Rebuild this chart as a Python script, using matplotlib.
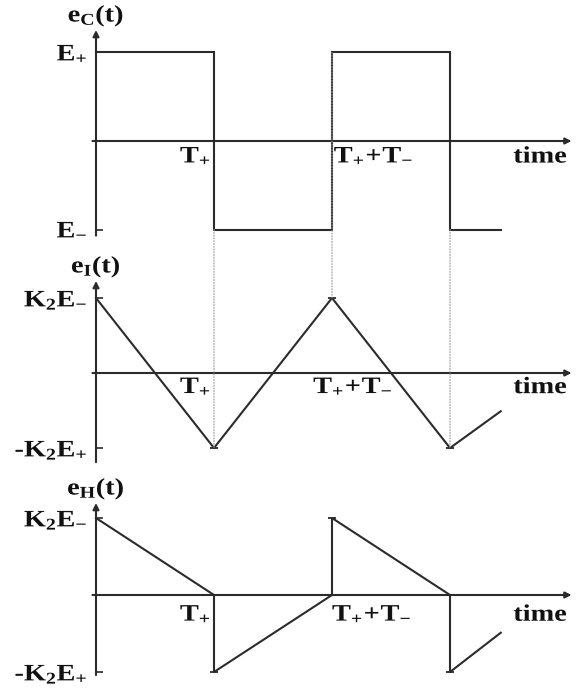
import matplotlib
matplotlib.use("Agg")
import matplotlib.pyplot as plt
from matplotlib.patches import ConnectionPatch
from matplotlib.patheffects import AbstractPathEffect
from matplotlib.transforms import Affine2D

plt.rcParams["font.family"] = ["Liberation Serif", "DejaVu Serif"]
plt.rcParams["font.weight"] = "bold"
plt.rcParams["mathtext.fontset"] = "custom"
plt.rcParams["mathtext.rm"] = "Liberation Serif:bold"
plt.rcParams["mathtext.it"] = "Liberation Serif:bold"
plt.rcParams["mathtext.bf"] = "Liberation Serif:bold"

# Time measured in units of T+ (here T- = T+)
t_c = [0, 1, 1, 2, 2, 3, 3, 3.43]
e_c = [1, 1, -1, -1, 1, 1, -1, -1]

t_i = [0, 1, 2, 3, 3.43]
e_i = [1, -1, 1, -1, -0.51]

t_h = [0, 1, 1, 2, 2, 3, 3, 3.43]
e_h = [1, 0, -1, 0, 1, 0, -1, -0.49]

switch_times = [1, 2, 3]

ylabels_c = [r"$E_{-}$", r"$E_{+}$"]
ylabels_k = [r"-$K_{2}E_{+}$", r"$K_{2}E_{-}$"]
names = [r"$e_{C}(t)$", r"$e_{I}(t)$", r"$e_{H}(t)$"]
lbl_tp = r"$T_{+}$"
lbl_tpm = r"$T_{+}\!+\!T_{-}$"

LINE = "#2b2b2b"
TXT = "#111111"
FS = 17
SX = 1.2


class Widen(AbstractPathEffect):
    """Stretch a text path horizontally, keeping one edge fixed."""

    def __init__(self, sx, fix="left"):
        super().__init__()
        self.sx = sx
        self.fix = fix

    def draw_path(self, renderer, gc, tpath, affine, rgbFace=None):
        xs = tpath.vertices[:, 0]
        x0, x1 = xs.min(), xs.max()
        cx = {"left": x0, "right": x1, "center": 0.5 * (x0 + x1)}[self.fix]
        t = Affine2D().translate(-cx, 0).scale(self.sx, 1).translate(cx, 0)
        renderer.draw_path(gc, tpath, t + affine, rgbFace)


W, H = 577, 692
fig = plt.figure(figsize=(W / 100, H / 100), dpi=100)


def band_axes(top_px, bottom_px, zero_px, unit_px):
    ax = fig.add_axes([0, 1 - bottom_px / H, 1, (bottom_px - top_px) / H])
    ax.set_xlim(-96 / 118, (W - 96) / 118)
    ax.set_ylim(-(bottom_px - zero_px) / unit_px, (zero_px - top_px) / unit_px)
    ax.patch.set_visible(False)
    for s in ("top", "right", "bottom"):
        ax.spines[s].set_visible(False)
    ax.spines["left"].set_position(("data", 0))
    ax.spines["left"].set_visible(False)
    ax.set_xticks([])
    ax.tick_params(axis="y", direction="in", length=5, width=1.2,
                   color=LINE, pad=6, labelsize=FS, labelcolor=TXT)
    return ax


def draw_axes(ax, y_lo, y_hi, name):
    arrow = dict(arrowstyle="-|>", lw=1.5, color=LINE, mutation_scale=9,
                 shrinkA=0, shrinkB=0)
    ax.annotate("", xy=(0, y_hi), xytext=(0, y_lo), arrowprops=arrow)
    ax.annotate("", xy=(4.03, 0), xytext=(-0.03, 0), arrowprops=arrow)
    ax.annotate(name, xy=(0, y_hi), xytext=(0, 1), textcoords="offset points",
                ha="center", va="bottom", fontsize=FS, color=TXT,
                path_effects=[Widen(SX, "center")])


ax1 = band_axes(0, 245, 141, 88.5)
ax2 = band_axes(245, 470, 373, 75)
ax3 = band_axes(470, 692, 595, 77)

ax1.set_yticks([-1, 1], labels=ylabels_c)
ax2.set_yticks([-1, 1], labels=ylabels_k)
ax3.set_yticks([-1, 1], labels=ylabels_k)
for ax in (ax1, ax2, ax3):
    for lab in ax.get_yticklabels():
        lab.set_path_effects([Widen(SX, "right")])

draw_axes(ax1, -1.07, 1.254, names[0])
draw_axes(ax2, -1.19, 1.227, names[1])
draw_axes(ax3, -1.04, 1.195, names[2])

# waveforms
ax1.plot(t_c, e_c, color=LINE, lw=1.5, solid_joinstyle="miter")
ax2.plot(t_i, e_i, color=LINE, lw=1.5, marker="_", markersize=6,
         markeredgewidth=1.3, markevery=[1, 2, 3])
ax3.plot(t_h, e_h, color=LINE, lw=1.5, marker="_", markersize=6,
         markeredgewidth=1.3, markevery=[2, 4, 6])

# dotted guides from the square-wave switching instants to the triangle vertices
for t in switch_times:
    y_top = e_c[t_c.index(t) + 1]
    y_bot = e_i[t_i.index(t)]
    con = ConnectionPatch(xyA=(t, y_top), coordsA=ax1.transData,
                          xyB=(t, y_bot), coordsB=ax2.transData,
                          color="#9a9a9a", lw=0.8, ls=(0, (1, 1.5)))
    fig.add_artist(con)

# time-axis labels
txt = dict(fontsize=FS, color=TXT, textcoords="offset points", va="top")
for ax, dy, x2 in ((ax1, -4.0, 2.015), (ax2, -3.0, 1.84), (ax3, -7.0, 2.0)):
    ax.annotate(lbl_tp, xy=(0.975, 0), xytext=(0, dy), ha="right",
                path_effects=[Widen(SX, "right")], **txt)
    ax.annotate(lbl_tpm, xy=(x2, 0), xytext=(0, dy), ha="left",
                path_effects=[Widen(SX, "left")], **txt)
    ax.annotate("time", xy=(3.99, 0), xytext=(0, dy), ha="right",
                path_effects=[Widen(SX, "right")], **txt)

fig.savefig("out.png", dpi=100)
